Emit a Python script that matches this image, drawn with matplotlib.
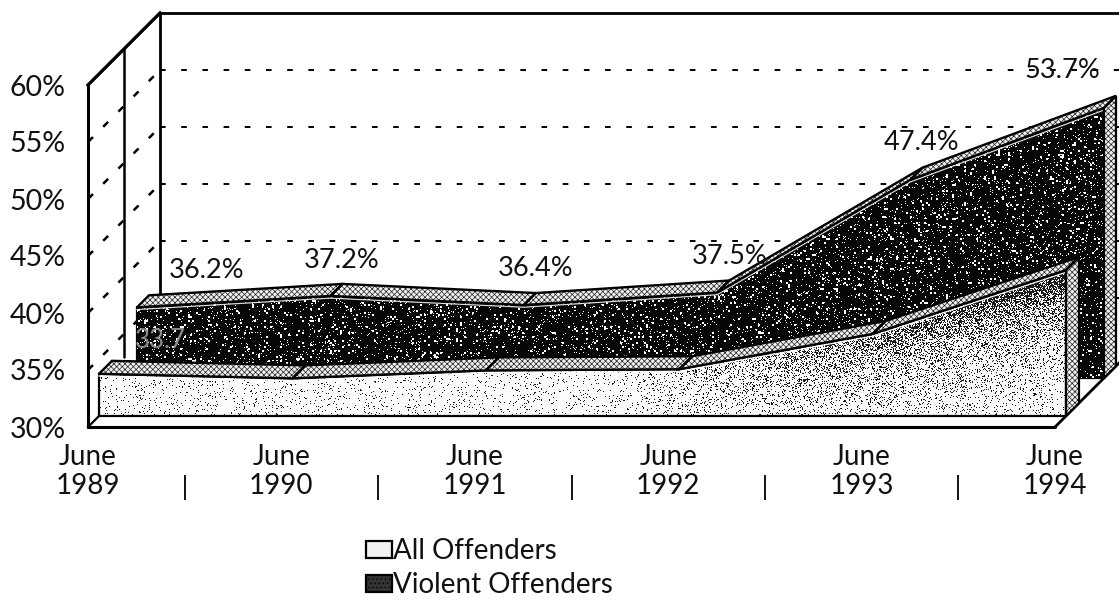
import numpy as np
import matplotlib
matplotlib.use("Agg")
import matplotlib.pyplot as plt
from matplotlib.patches import Polygon, Patch

# ---- data ----
years = ["1989", "1990", "1991", "1992", "1993", "1994"]
all_offenders = [33.7, 33.3, 34.0, 34.1, 37.2, 42.8]
violent_offenders = [36.2, 37.2, 36.4, 37.5, 47.4, 53.7]
violent_labels = ["36.2%", "37.2%", "36.4%", "37.5%", "47.4%", "53.7%"]
y_ticks = [30, 35, 40, 45, 50, 55, 60]
series_names = ["All Offenders", "Violent Offenders"]

# ---- layout (pixels) ----
W, H = 1119, 601
L, R, B, T = 88, 1055, 427, 85
plt.rcParams["font.family"] = ["Lato", "DejaVu Sans"]
plt.rcParams["hatch.linewidth"] = 0.5
FS = 19.5

fig = plt.figure(figsize=(W / 100, H / 100), dpi=100, facecolor="white")
ax = fig.add_axes([L / W, 1 - B / H, (R - L) / W, (B - T) / H])
n = len(years)
ax.set_xlim(0, n - 1)
ax.set_ylim(30, 60)
PX = (R - L) / (n - 1)
PY = (B - T) / 30.0
for s in ax.spines.values():
    s.set_visible(False)
ax.patch.set_alpha(0)


def proj(i, v, d):
    """Oblique projection of category i, value v at a depth of d pixels."""
    return (np.asarray(i, float) + d / PX, np.asarray(v, float) + d / PY)


def line(i, v, d, **kw):
    x, y = proj(i, v, d)
    kw.setdefault("color", "black")
    kw.setdefault("solid_capstyle", "round")
    ax.plot(x, y, clip_on=False, **kw)


def poly(points, **kw):
    p = Polygon(points, closed=True, clip_on=False, **kw)
    ax.add_patch(p)
    return p


# ---- walls ----
DEPTH = 72
line([0, 0], [30, 60], 0, lw=2.2, zorder=2)
line([0, 0], [30, 60], DEPTH, lw=2.0, zorder=2)
line([0, 0], [33, 60], DEPTH / 2, lw=1.8, zorder=2)
x0, y0 = proj(0, 60, 0)
x1, y1 = proj(0, 60, DEPTH)
ax.plot([x0, x1], [y0, y1], color="black", lw=2.4, clip_on=False, zorder=2)
line([0, n], [60, 60], DEPTH, lw=2.0, zorder=2)
for v in y_ticks[1:-1]:
    x0, y0 = proj(0, v, 0)
    x1, y1 = proj(0, v, DEPTH)
    ax.plot([x0, x1], [y0, y1], color="black", lw=1.8, ls=(0, (2.8, 5.8)),
            clip_on=False, zorder=2)
    x2, y2 = proj(n, v, DEPTH)
    ax.plot([x1, x2], [y1, y2], color="black", lw=1.4, ls=(0, (2.9, 8)),
            clip_on=False, zorder=2)

# ---- stipple textures, one image per series, clipped to the faces ----
yy, xx = np.mgrid[0:H, 0:W]


def texture(a, b):
    h = a.astype(np.uint32) * np.uint32(374761393) + b.astype(np.uint32) * np.uint32(668265263)
    h = (h ^ (h >> np.uint32(13))) * np.uint32(1274126177)
    h = h ^ (h >> np.uint32(16))
    return (h & np.uint32(0xFFFF)) / 65536.0


coarse = texture(xx // 2, yy // 2)
fine = texture(xx, yy)
extent = [(0 - L) / PX, (W - L) / PX, 30 + (B - H) / PY, 30 + B / PY]
idx = np.arange(n)


def stipple(mask, rgb, clip, z):
    img = np.zeros((H, W, 4))
    img[..., :3] = rgb
    img[..., 3] = mask.astype(float)
    im = ax.imshow(img, extent=extent, origin="upper", aspect="auto",
                   interpolation="nearest", zorder=z)
    im.set_clip_box(fig.bbox)
    im.set_clip_path(clip)
    ax.set_xlim(0, n - 1)
    ax.set_ylim(30, 60)
    return im


def area(values, d_front, d_rear, face, z, edge_white):
    fx, fy = proj(idx, values, d_front)
    rx, ry = proj(idx, values, d_rear)
    bfx, bfy = proj(idx, np.full(n, 30.0), d_front)
    front = poly(list(zip(fx, fy)) + [(bfx[-1], bfy[-1]), (bfx[0], bfy[0])],
                 facecolor=face, edgecolor="black", lw=1.6, zorder=z)
    # side face and top ribbon
    sx = [fx[-1], rx[-1], proj(n - 1, 30, d_rear)[0], bfx[-1]]
    sy = [fy[-1], ry[-1], proj(n - 1, 30, d_rear)[1], bfy[-1]]
    poly(list(zip(sx, sy)), facecolor="#f0f0f0", edgecolor="#222222", hatch="xxxxxx",
         lw=0, zorder=z + 0.1)
    poly(list(zip(sx, sy)), facecolor="none", edgecolor="black", lw=1.6, zorder=z + 0.2)
    for k in range(n - 1):
        pts = [(fx[k], fy[k]), (rx[k], ry[k]), (rx[k + 1], ry[k + 1]), (fx[k + 1], fy[k + 1])]
        poly(pts, facecolor="#f0f0f0", edgecolor="#222222", hatch="xxxxxx", lw=0, zorder=z + 0.1)
        poly(pts, facecolor="none", edgecolor="black", lw=1.7, zorder=z + 0.2)
    ax.plot(fx, fy - 2.2 / PY, color=edge_white, lw=0.9, zorder=z + 0.15, clip_on=False)
    return front


# violent series
front_v = area(violent_offenders, 49, 61, "#060606", 3, "#dddddd")
stipple((coarse < 0.055) | (fine < 0.05), (1, 1, 1), front_v, 3.05)

# all offenders series
D1, D2 = 11, 24
front_a = area(all_offenders, D1, D2, "#fbfbfb", 4, "white")
fx, fy = proj(idx, all_offenders, D1)
px_front = L + fx * PX
py_front = B - (np.asarray(fy) - 30) * PY
top = np.interp(xx, px_front, py_front)
below = np.clip(yy - top, 0, None)
ramp = np.clip((xx - 620) / 430.0, 0, 1)
prob = 0.06 + 0.85 * ramp * np.exp(-below / 38.0)
stipple(fine < prob, (0.1, 0.1, 0.1), front_a, 4.05)

# ---- floor ----
line([0, n - 1], [30, 30], 0, lw=2.2, zorder=6)
x0, y0 = proj(n - 1, 30, 0)
x1, y1 = proj(n - 1, 30, DEPTH)
ax.plot([x0, x1], [y0, y1], color="black", lw=2.0, clip_on=False, zorder=2.5)
x0, y0 = proj(0, 30, 0)
x1, y1 = proj(0, 30, D1)
ax.plot([x0, x1], [y0, y1], color="black", lw=1.6, clip_on=False, zorder=6)

# ---- value labels ----
label_pos = [(207, 271), (342, 260), (536, 268), (730, 257), (922, 143), (1062, 70)]
for (px, py), txt in zip(label_pos, violent_labels):
    ax.text((px - L) / PX, 30 + (B - py) / PY, txt, fontsize=FS, ha="center", va="center",
            color="#111111", clip_on=False, zorder=8)
ax.text((160 - L) / PX, 30 + (B - 340) / PY, "33.7", fontsize=FS - 1, ha="center", va="center",
        color="#8a8a8a", clip_on=False, zorder=8)

# ---- axes text ----
ax.set_yticks(y_ticks)
ax.set_yticklabels([f"{v}%" for v in y_ticks], fontsize=20.5, color="#111111")
ax.set_xticks(idx)
ax.set_xticklabels([f"June\n{y}" for y in years], fontsize=20, color="#111111", linespacing=1.12)
ax.tick_params(axis="y", length=0, pad=16)
ax.tick_params(axis="x", length=0, pad=12.5)
sep = idx[:-1] + 0.5
ax.vlines(sep, 30 - (475 - B) / PY, 30 - (500 - B) / PY, color="black", lw=1.3, clip_on=False)

# ---- legend ----
handles = [Patch(facecolor="#f2f2f2", edgecolor="black", lw=1.6),
           Patch(facecolor="#333333", edgecolor="black", lw=1.6, hatch="....")]
fig.legend(handles, series_names, loc="upper left", bbox_to_anchor=(366 / W, 1 - 538 / H),
           frameon=False, fontsize=20, handlelength=0.92, handleheight=0.55, handletextpad=0.06,
           labelspacing=0.3, borderpad=0, borderaxespad=0, labelcolor="#111111")

fig.savefig("out.png", dpi=100)
